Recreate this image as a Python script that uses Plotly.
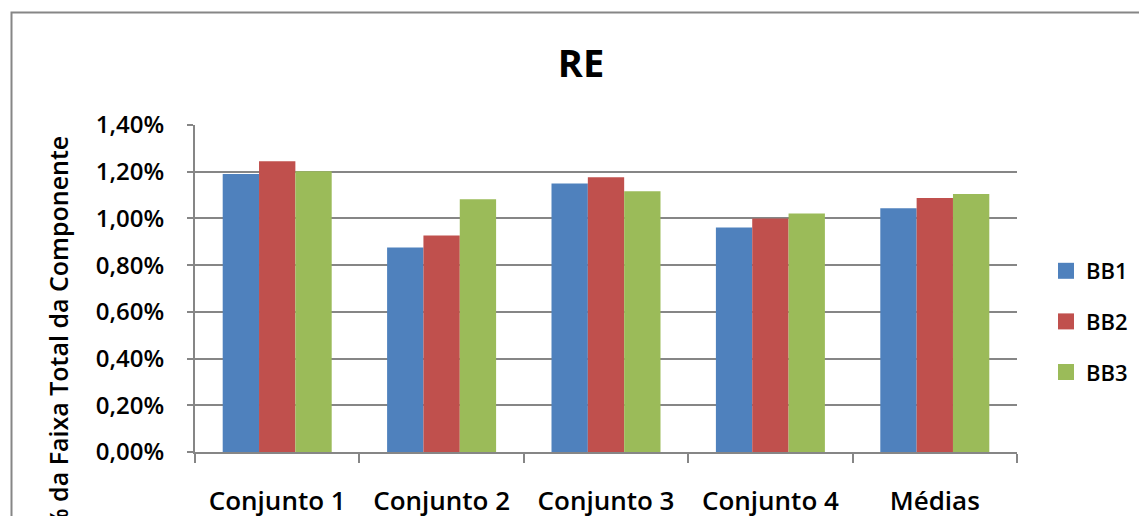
import plotly.graph_objects as go

# Share of the component's total range, per data set and per block
categories = ["Conjunto 1", "Conjunto 2", "Conjunto 3", "Conjunto 4", "Médias"]
bb1 = [0.01190, 0.00876, 0.01150, 0.00961, 0.01044]
bb2 = [0.01245, 0.00927, 0.01176, 0.01000, 0.01087]
bb3 = [0.01202, 0.01082, 0.01116, 0.01021, 0.01105]
series_names = ["BB1", "BB2", "BB3"]
series_values = [bb1, bb2, bb3]
colors = ["#4F81BD", "#C0504D", "#9BBB59"]

y_ticks = [0.0, 0.002, 0.004, 0.006, 0.008, 0.010, 0.012, 0.014]

FONT = "Open Sans"
GRID = "#868686"

fig = go.Figure()

for name, vals, col in zip(series_names, series_values, colors):
    fig.add_trace(go.Bar(
        x=categories, y=vals, name=name,
        marker=dict(color=col, line=dict(width=0)),
        showlegend=False,
    ))

# Legend entries with larger square keys
for i, (name, col) in enumerate(zip(series_names, colors)):
    fig.add_trace(go.Scatter(
        x=[None], y=[None], mode="markers", name=name,
        marker=dict(symbol="square", size=16, color=col),
        legendgroup=f"g{i}", showlegend=True,
    ))

W, H = 1139, 516
L, R, T, B = 195, 122, 125, 64
pw, ph = W - L - R, H - T - B

def px_x(p):
    return (p - L) / pw

def px_y(p):
    return (H - B - p) / ph

fig.update_layout(
    width=W, height=H,
    margin=dict(l=L, r=R, t=T, b=B, pad=0, autoexpand=False),
    paper_bgcolor="white", plot_bgcolor="white",
    separators=",.",
    bargap=0.337, bargroupgap=0,
    barmode="group",
    font=dict(family=FONT, color="black"),
    title=dict(
        text="<b>RE</b>",
        font=dict(family=FONT, size=38, color="black"),
        x=581 / W, xanchor="center", xref="container",
        y=1 - 64 / H, yanchor="middle", yref="container",
    ),
    legend=dict(
        x=px_x(1046), xanchor="left",
        y=px_y(250), yanchor="top",
        font=dict(family=FONT, size=22, color="black", weight=600),
        bgcolor="rgba(0,0,0,0)", borderwidth=0,
        tracegroupgap=19, itemsizing="trace", itemwidth=30,
    ),
    xaxis=dict(
        type="category", automargin=False,
        showline=True, linecolor=GRID, linewidth=2,
        ticks="outside", tickson="boundaries", ticklen=9,
        tickcolor=GRID, tickwidth=2,
        tickfont=dict(family=FONT, size=26, color="black", weight=600),
        ticklabelstandoff=25,
        showgrid=False, zeroline=False,
    ),
    yaxis=dict(
        range=[0, 0.014], automargin=False,
        tickvals=y_ticks, tickformat=".2%",
        showline=True, linecolor=GRID, linewidth=2,
        ticks="outside", ticklen=6, tickcolor=GRID, tickwidth=2,
        tickfont=dict(family=FONT, size=24, color="black", weight=600),
        ticklabelstandoff=18,
        showgrid=True, gridcolor=GRID, gridwidth=2,
        zeroline=False,
    ),
    annotations=[dict(
        text="% da Faixa Total da Componente",
        textangle=-90,
        xref="paper", yref="paper",
        x=px_x(58), y=px_y(333),
        xanchor="center", yanchor="middle",
        showarrow=False,
        font=dict(family=FONT, size=25, color="black", weight=600),
    )],
    shapes=[dict(
        type="rect", xref="paper", yref="paper",
        x0=px_x(11.5), x1=px_x(1160),
        y0=px_y(540), y1=px_y(12.5),
        line=dict(color=GRID, width=2),
        fillcolor="rgba(0,0,0,0)",
        layer="below",
    )],
)

fig.write_html("out.html")
